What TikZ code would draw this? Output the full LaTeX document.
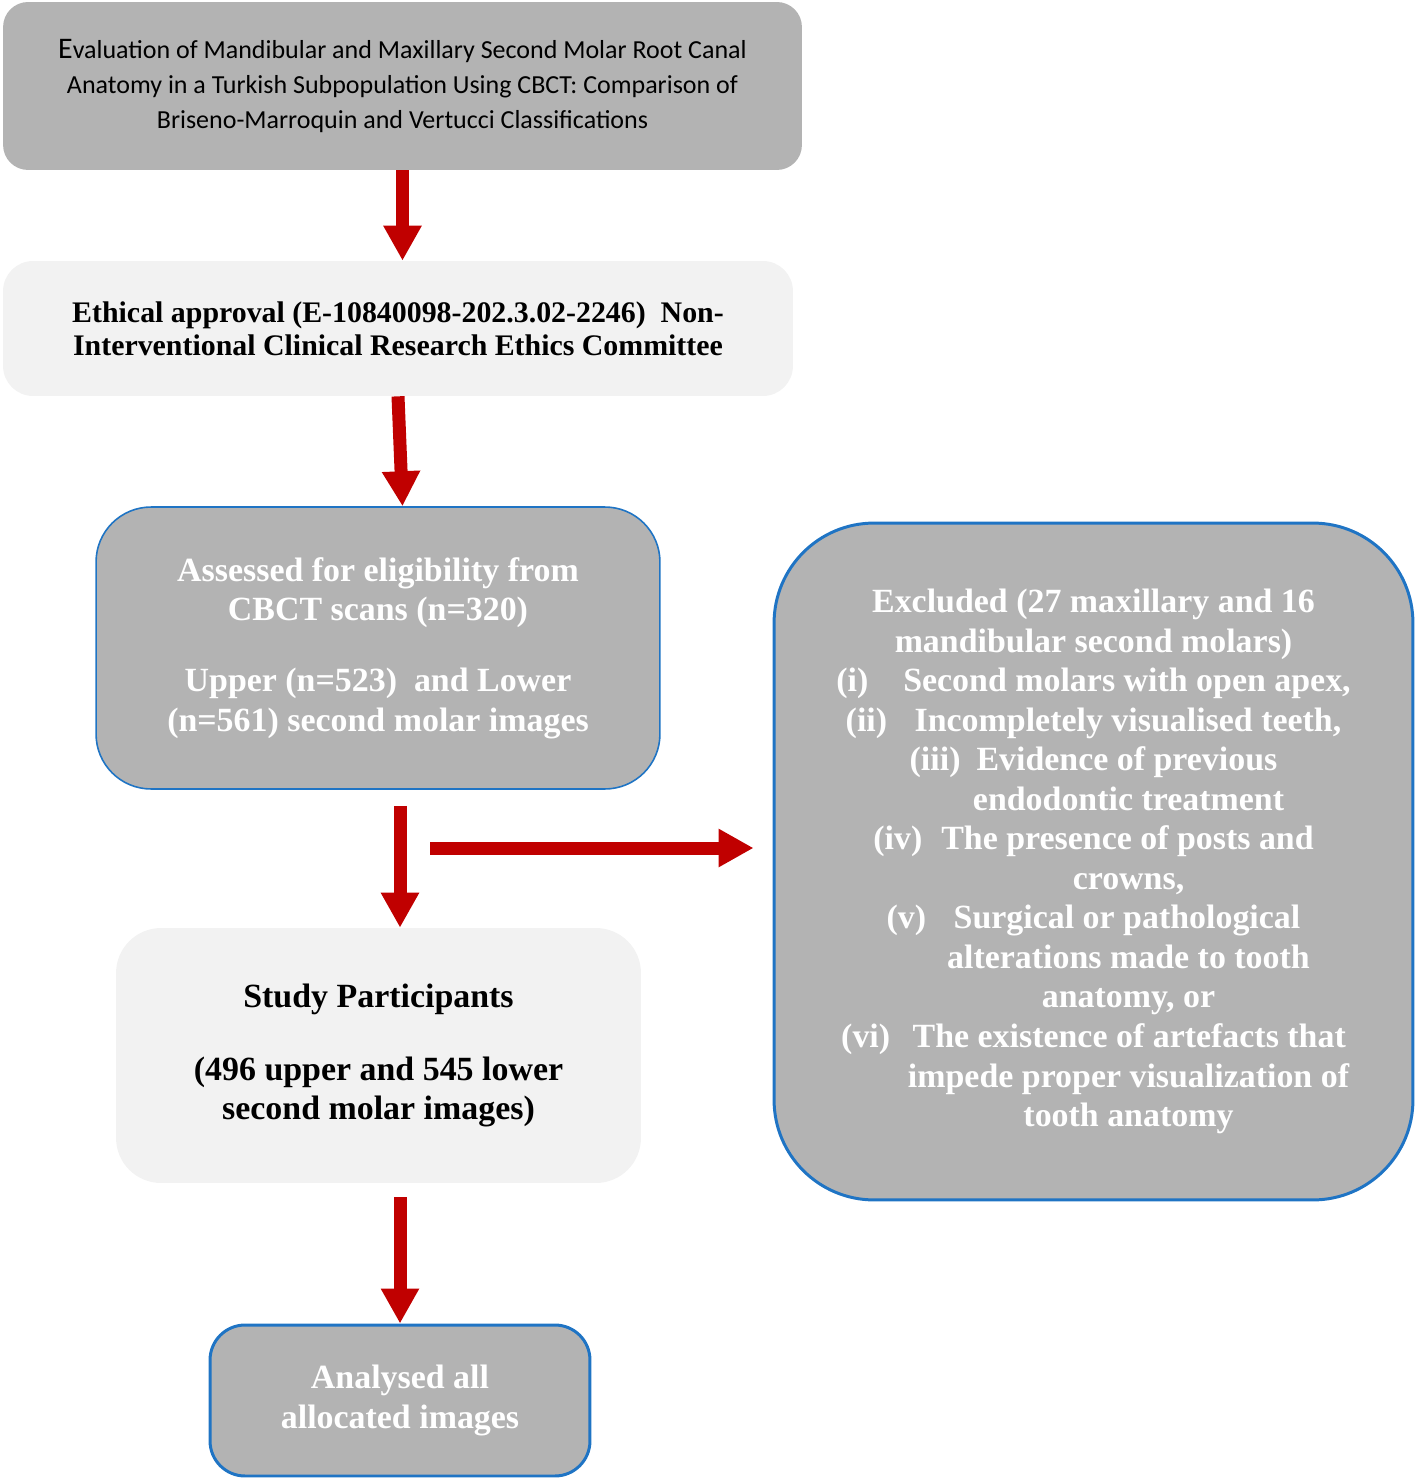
\documentclass[tikz,border=0pt]{standalone}
\usepackage{fontspec}
\setmainfont{Liberation Serif}
\newfontfamily\titlefont{Carlito}
\usetikzlibrary{arrows.meta, positioning, calc}
\definecolor{boxgray}{HTML}{B3B3B3}
\definecolor{boxlight}{HTML}{F2F2F2}
\definecolor{edgeblue}{HTML}{1F74C4}
\definecolor{arrowred}{HTML}{C00000}

\tikzset{
  graybox/.style={fill=boxgray, text=white, align=center, inner sep=0pt},
  lightbox/.style={fill=boxlight, text=black, align=center, inner sep=0pt},
  bodyfont/.style={font=\fontsize{19.3}{22.5}\selectfont\bfseries},
  flowarrow/.style={arrowred, line width=0.26cm, -{Triangle[length=0.7cm, width=0.72cm]}}
}

\begin{document}
\begin{tikzpicture}[x=0.02cm, y=-0.02cm]
  \useasboundingbox (0,0) rectangle (1416,1480);

  % Title
  \node[graybox, text=black, rounded corners=0.5cm, minimum width=15.98cm, minimum height=3.36cm,
        font=\fontsize{14.8}{19.9}\selectfont\titlefont] (title) at (402.5,86)
    {{\fontsize{17}{19.9}\selectfont E}valuation of Mandibular and Maxillary Second Molar Root Canal\\
     Anatomy in a Turkish Subpopulation Using CBCT: Comparison of\\
     Briseno-Marroquin and Vertucci Classifications};

  % Ethics
  \node[lightbox, rounded corners=0.6cm, minimum width=15.8cm, minimum height=2.7cm,
        font=\fontsize{17}{18.8}\selectfont\bfseries] (ethics) at (398,328.5)
    {Ethical approval (E-10840098-202.3.02-2246)\enspace Non-\\
     Interventional Clinical Research Ethics Committee};

  % Screening
  \node[graybox, bodyfont, draw=edgeblue, line width=0.9pt, rounded corners=1.1cm,
        minimum width=11.28cm, minimum height=5.64cm] (assessed) at (378,648)
    {Assessed for eligibility from\\
     CBCT scans (n=320)\\[0.63cm]
     Upper (n=523)\enspace and Lower\\
     (n=561) second molar images};

  \node[graybox, bodyfont, draw=edgeblue, line width=1.7pt, rounded corners=2cm,
        minimum width=12.78cm, minimum height=13.54cm] (excluded) at (1093.5,861.5)
    {Excluded (27 maxillary and 16\\
     mandibular second molars)\\
     (i)\hspace{0.7cm}Second molars with open apex,\\
     (ii)\hspace{0.55cm}Incompletely visualised teeth,\\
     (iii)\hspace{0.32cm}Evidence of previous\\
     \hspace*{1.4cm}endodontic treatment\\
     (iv)\hspace{0.38cm}The presence of posts and\\
     \hspace*{1.4cm}crowns,\\
     (v)\hspace{0.55cm}Surgical or pathological\\
     \hspace*{1.4cm}alterations made to tooth\\
     \hspace*{1.4cm}anatomy, or\\
     (vi)\hspace{0.45cm}The existence of artefacts that\\
     \hspace*{1.4cm}impede proper visualization of\\
     \hspace*{1.4cm}tooth anatomy};

  % Included
  \node[lightbox, bodyfont, rounded corners=0.9cm, minimum width=10.5cm, minimum height=5.1cm]
    (participants) at (378.5,1055.5)
    {Study Participants\\[0.66cm]
     (496 upper and 545 lower\\
     second molar images)};

  \node[graybox, bodyfont, draw=edgeblue, line width=1.7pt, rounded corners=0.7cm,
        minimum width=7.6cm, minimum height=3.02cm] (analysed) at (400,1400.5)
    {Analysed all\\
     allocated images};

  % Arrows
  \coordinate (spine) at (400,0);
  \coordinate (branch) at (430,848);
  \draw[flowarrow] (title.south) -- (title.south |- ethics.north);
  \draw[flowarrow] (ethics.south) -- (title.south |- assessed.north);
  \draw[flowarrow, shorten <=0.32cm] (spine |- assessed.south) -- (spine |- participants.north);
  \draw[flowarrow, shorten >=0.38cm] (branch) -- (branch -| excluded.west);
  \draw[flowarrow, shorten <=0.28cm] (spine |- participants.south) -- (analysed.north);
\end{tikzpicture}
\end{document}
